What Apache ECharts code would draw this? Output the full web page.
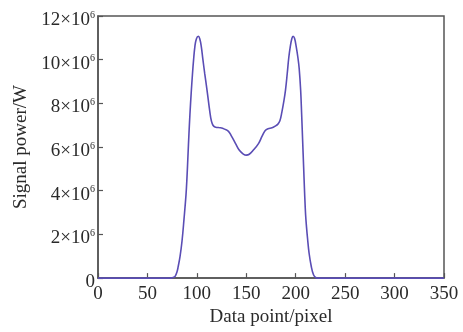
<!DOCTYPE html>
<html>
<head>
<meta charset="utf-8">
<script src="https://cdn.jsdelivr.net/npm/echarts@6/dist/echarts.min.js"></script>
<style>html,body{margin:0;padding:0;background:#fff;}#c{width:463px;height:332px;}</style>
</head>
<body>
<div id="c"></div>
<script>
// x positions (pixel index)
const xs = [0,20,40,60,70,74,76,78,80,81,83,85,87,89,90,91,92,93,94.3,95.5,96.7,98,99.5,101.5,103,104.5,106,108,110,112,114,115.5,117,119,124,128,132,135,139,143,147,150,153,157,162.5,166,169,172,176,179,182,184,186,188,189.7,191.5,193,194.5,196,197.3,198.8,200.5,202.2,203.5,205,206,207,208,209,210,211,212,213.5,215.8,218,220,222,230,260,300,350];
// signal power in units of 10^6 W
const ys = [0,0,0,0,0,0.01,0.03,0.08,0.3,0.5,1.0,1.7,2.7,3.8,4.6,5.6,6.6,7.5,8.5,9.3,10.0,10.6,10.95,11.07,10.95,10.6,10.05,9.35,8.7,8.0,7.35,7.08,6.96,6.91,6.88,6.82,6.72,6.5,6.17,5.85,5.68,5.63,5.67,5.85,6.17,6.5,6.75,6.84,6.88,6.95,7.05,7.2,7.6,8.1,8.62,9.4,10.1,10.6,10.95,11.07,10.98,10.6,10.1,9.6,8.6,7.5,6.3,5.1,3.9,2.9,2.3,1.8,1.15,0.52,0.15,0.03,0,0,0,0,0];
const xTicks = [0,50,100,150,200,250,300,350];
const yTicks = [0,2,4,6,8,10,12];

const font = 'Liberation Serif';
const txt = '#2a2a2a';
const axisCol = '#555';
const chart = echarts.init(document.getElementById('c'), null, {renderer:'canvas'});
chart.setOption({
  animation:false,
  grid:{left:98,right:19,top:16,bottom:47,show:true,borderColor:axisCol,borderWidth:1.5,backgroundColor:'transparent'},
  xAxis:{
    type:'value',min:xTicks[0],max:xTicks[xTicks.length-1],interval:50,
    name:'Data point/pixel',nameLocation:'middle',nameGap:26,
    nameTextStyle:{fontFamily:font,fontSize:19,color:txt},
    axisLine:{show:true,lineStyle:{color:axisCol,width:1.5}},
    axisTick:{show:true,inside:true,length:5,lineStyle:{color:axisCol,width:1.2}},
    axisLabel:{fontFamily:font,fontSize:19,color:txt,margin:6},
    splitLine:{show:false}
  },
  yAxis:{
    type:'value',min:yTicks[0],max:yTicks[yTicks.length-1],interval:2,
    name:'Signal power/W',nameLocation:'middle',nameGap:63,
    nameTextStyle:{fontFamily:font,fontSize:19,color:txt},
    axisLine:{show:true,lineStyle:{color:axisCol,width:1.5}},
    axisTick:{show:true,inside:true,length:5,lineStyle:{color:axisCol,width:1.2}},
    axisLabel:{
      fontFamily:font,fontSize:19,color:txt,margin:3,padding:[8,0,0,0],
      formatter:function(v){ return v===0 ? '0' : '{a|'+v+'×10}{s|6}'; },
      rich:{a:{fontFamily:font,fontSize:19,color:txt},s:{fontFamily:font,fontSize:10,color:txt,padding:[0,0,10,0]}}
    },
    splitLine:{show:false}
  },
  series:[{
    type:'line',
    data:xs.map((x,i)=>[x,ys[i]]),
    showSymbol:false,
    smooth:0.4,
    lineStyle:{color:'#5a4db5',width:1.6},
    itemStyle:{color:'#5a4db5'}
  }]
});
</script>
</body>
</html>
